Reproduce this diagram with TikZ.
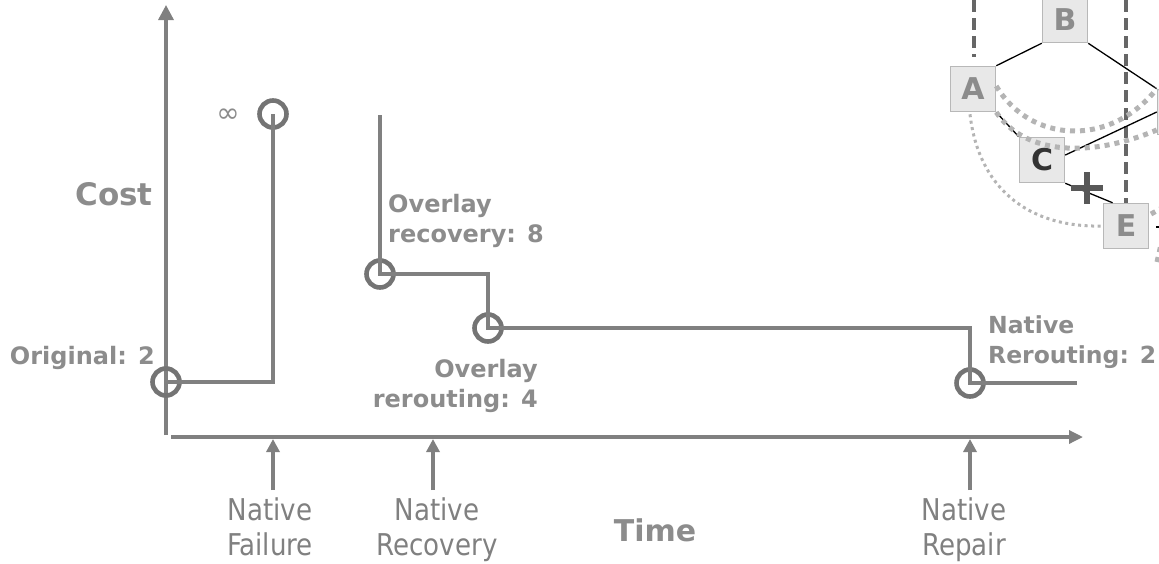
\documentclass[tikz,border=0pt]{standalone}
\usepackage{fontspec}
\setmainfont{DejaVu Sans}
\newfontfamily\narrowfont{DejaVu Sans}[FakeStretch=0.87]
\usetikzlibrary{arrows.meta,calc}

\definecolor{axisgray}{HTML}{808080}
\definecolor{ringgray}{HTML}{747474}
\definecolor{labelgray}{HTML}{8C8C8C}
\definecolor{boxfill}{HTML}{E8E8E8}
\definecolor{boxline}{HTML}{B8B8B8}
\definecolor{pathdot}{HTML}{B4B4B4}
\definecolor{cutgray}{HTML}{585858}
\definecolor{dashgray}{HTML}{666666}
\definecolor{darktext}{HTML}{333333}

\tikzset{
  x=1pt, y=-1pt,
  axisline/.style={draw=axisgray, line width=3.3pt},
  stepline/.style={draw=axisgray, line width=3.2pt},
  tickarrow/.style={draw=axisgray, line width=3.2pt, -{Triangle[width=13pt,length=13pt]}},
  ring/.style={circle, draw=ringgray, line width=4.6pt, minimum size=27pt, inner sep=0pt},
  boldlabel/.style={text=labelgray, font=\fontsize{24}{30}\selectfont\bfseries, inner sep=0pt},
  biglabel/.style={text=labelgray, font=\fontsize{31}{36}\selectfont\bfseries, inner sep=0pt},
  eventlabel/.style={text=axisgray, font=\narrowfont\fontsize{30}{35}\selectfont, inner sep=0pt},
  netbox/.style={rectangle, fill=boxfill, draw=boxline, line width=1.5pt,
    minimum size=45pt, inner sep=0pt, font=\fontsize{30}{36}\selectfont\bfseries, text=labelgray},
  wire/.style={draw=black, line width=1.3pt},
  dashline/.style={draw=dashgray, line width=3.5pt, dash pattern=on 12pt off 6pt},
  dotpath/.style={draw=pathdot, line width=5pt, dash pattern=on 5pt off 5pt},
  thindot/.style={draw=pathdot, line width=3pt, dash pattern=on 3pt off 3.5pt},
  cutmark/.style={draw=cutgray, line width=6pt},
}

\begin{document}
\begin{tikzpicture}
\useasboundingbox (0,0) rectangle (1159,563);
\clip (0,0) rectangle (1159,563);

% ---------- axes ----------
\coordinate (yfoot) at (166,435);
\coordinate (ytip)  at (166,5);
\coordinate (xfoot) at (171,437);
\coordinate (xtip)  at (1083,437);
\draw[axisline, -{Triangle[width=15pt,length=15pt]}] (yfoot) -- (ytip);
\draw[axisline, -{Triangle[width=13pt,length=14pt]}] (xfoot) -- (xtip);

\node[biglabel, anchor=base] (cost) at (114,205) {Cost};
\node[biglabel, anchor=base, font=\fontsize{30}{36}\selectfont\bfseries] (time) at (655,541) {Time};

% ---------- events on the time axis ----------
\coordinate (failfoot) at (273,490);
\coordinate (failtip)  at (273,439);
\coordinate (recfoot)  at (433,490);
\coordinate (rectip)   at (433,439);
\coordinate (repfoot)  at (970,490);
\coordinate (reptip)   at (970,439);
\draw[tickarrow] (failfoot) -- (failtip);
\draw[tickarrow] (recfoot) -- (rectip);
\draw[tickarrow] (repfoot) -- (reptip);

\node[eventlabel, anchor=base] (failtxt) at (270,520)
  {\begin{tabular}[t]{@{}c@{}}Native\\Failure\end{tabular}};
\node[eventlabel, anchor=base] (rectxt) at (437,520)
  {\begin{tabular}[t]{@{}c@{}}Native\\Recovery\end{tabular}};
\node[eventlabel, anchor=base] (reptxt) at (964,520)
  {\begin{tabular}[t]{@{}c@{}}Native\\Repair\end{tabular}};

% ---------- cost over time ----------
\node[ring] (orig)  at (166,382) {};
\node[ring] (inf)   at (273,114) {};
\node[ring] (ovrec) at (380,274) {};
\node[ring] (ovrr)  at (488,328) {};
\node[ring] (natr)  at (970,383) {};
\coordinate (ovtop) at (380,115);
\coordinate (natend) at (1077,383);

\draw[stepline] (orig.center) -| (inf.center);
\draw[stepline] (ovtop) -- (ovrec.center) -| (ovrr.center) -| (natr.center) -- (natend);

\node[text=labelgray, font=\fontsize{28}{30}\selectfont, inner sep=0pt] (infsym) at (228,116) {∞};

\node[boldlabel, anchor=base east] (origtxt) at (155,364) {Original: 2};
\node[boldlabel, anchor=base west] (ovrectxt) at (388,212)
  {\begin{tabular}[t]{@{}l@{}}Overlay\\recovery: 8\end{tabular}};
\node[boldlabel, anchor=base east] (ovrrtxt) at (538,377)
  {\begin{tabular}[t]{@{}r@{}}Overlay\\rerouting: 4\end{tabular}};
\node[boldlabel, anchor=base west, font=\fontsize{23.5}{30}\selectfont\bfseries] (natrtxt) at (988,333)
  {\begin{tabular}[t]{@{}l@{}}Native\\Rerouting: 2\end{tabular}};

% ---------- network sketch ----------
\node[netbox] (A) at (973,89) {A};
\node[netbox] (B) at (1065,20) {B};
\node[netbox, text=darktext] (C) at (1042,160) {C};
\node[netbox] (D) at (1180,112) {};
\node[netbox] (E) at (1126,226) {E};

\coordinate (dashLtop) at (974,0);
\coordinate (dashLend) at (974,57);
\coordinate (dashRtop) at (1126,0);
\draw[dashline] (dashLtop) -- (dashLend);
\draw[dashline] (dashRtop) -- (E.north);

\draw[wire] (A.north east) -- (B.south west);
\draw[wire] (B.south east) -- (D.north west);
\draw[wire] (A.south east) -- (C.north west);
\draw[wire] (C.12) -- (D.west);
\draw[wire] (C.south east) -- (E.120);
\coordinate (estub) at (1156,227);
\coordinate (estubend) at (1175,227);
\draw[wire] (estub) -- (estubend);

% failed link
\coordinate (cut) at (1087,188);
\draw[cutmark] ($(cut)+(-16,0)$) -- ($(cut)+(16,0)$);
\draw[cutmark] ($(cut)+(0,-16)$) -- ($(cut)+(0,16)$);

% rerouted paths
\draw[dotpath] ($(A.east)+(0,-3)$) .. controls (1030,143) and (1110,148) .. (D.north west);
\draw[dotpath] (A.south east) .. controls (1025,155) and (1090,158) .. ($(D.west)+(0,18)$);
\draw[thindot] ($(A.south)+(-3,2)$) .. controls (978,185) and (1025,228) .. (E.west);
\coordinate (eup) at (1151,214);
\coordinate (eupend) at (1180,198);
\draw[dotpath] (eup) -- (eupend);
\coordinate (edown) at (1157,262);
\coordinate (edownend) at (1162,240);
\draw[dotpath] (edown) -- (edownend);
\end{tikzpicture}
\end{document}
